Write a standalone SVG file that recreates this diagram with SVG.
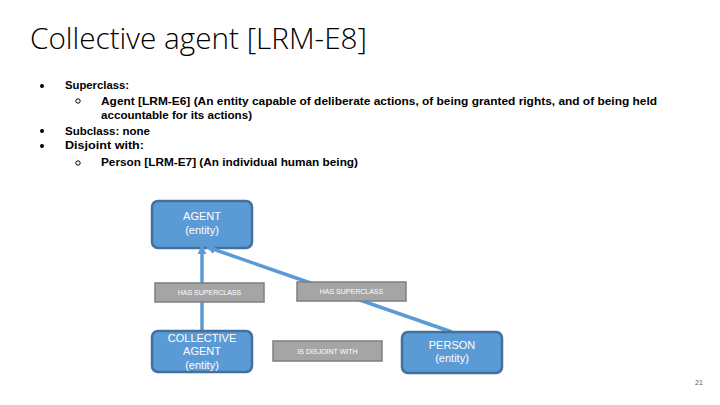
<svg xmlns="http://www.w3.org/2000/svg" width="720" height="405" viewBox="0 0 720 405">
<defs>
<style>
.title{font-family:"Open Sans","Liberation Sans",sans-serif;font-weight:300;font-size:30px;fill:#000}
.b{font-family:"Liberation Sans",Arial,sans-serif;font-weight:bold;font-size:11px;fill:#000}
.node rect{fill:#5B9BD5;stroke:#41719C;stroke-width:2.5}
.node text{font-family:"Liberation Sans",Arial,sans-serif;font-size:11px;fill:#fff;text-anchor:middle}
.lbl rect{fill:#A5A5A5;stroke:#7F7F7F;stroke-width:1.5}
.lbl text{font-family:"Liberation Sans",Arial,sans-serif;font-size:7px;fill:#fff;text-anchor:middle}
.conn{stroke:#5B9BD5;stroke-width:3.5;fill:none}
</style>
<marker id="arr" viewBox="0 0 10 10" refX="9" refY="5" markerWidth="2.6" markerHeight="2.6" orient="auto"><path d="M0,0L10,5L0,10z" fill="#5B9BD5"/></marker>
</defs>
<rect width="720" height="405" fill="#fff"/>
<text class="title" x="30" y="49" textLength="337" lengthAdjust="spacingAndGlyphs">Collective agent [LRM-E8]</text>
<g id="bullets">
<circle cx="42" cy="86" r="2" fill="#000"/>
<text class="b" x="65" y="89" textLength="64" lengthAdjust="spacingAndGlyphs">Superclass:</text>
<circle cx="78" cy="101" r="2.2" fill="none" stroke="#000" stroke-width="1"/>
<text class="b" x="101" y="105" textLength="556" lengthAdjust="spacingAndGlyphs">Agent [LRM-E6] (An entity capable of deliberate actions, of being granted rights, and of being held</text>
<text class="b" x="101" y="119" textLength="151" lengthAdjust="spacingAndGlyphs">accountable for its actions)</text>
<circle cx="42" cy="131" r="2" fill="#000"/>
<text class="b" x="65" y="135" textLength="85" lengthAdjust="spacingAndGlyphs">Subclass: none</text>
<circle cx="42" cy="146" r="2" fill="#000"/>
<text class="b" x="65" y="149" textLength="79" lengthAdjust="spacingAndGlyphs">Disjoint with:</text>
<circle cx="78" cy="163" r="2.2" fill="none" stroke="#000" stroke-width="1"/>
<text class="b" x="101" y="166" textLength="257" lengthAdjust="spacingAndGlyphs">Person [LRM-E7] (An individual human being)</text>
</g>
<g id="agent" class="node">
<rect x="152" y="201" width="100" height="47" rx="6"/>
<text x="202" y="220">AGENT</text>
<text x="202" y="234">(entity)</text>
</g>
<g id="connectors">
<line class="conn" x1="202" y1="331" x2="202" y2="246" marker-end="url(#arr)"/>
<line class="conn" x1="452" y1="332" x2="207" y2="247" marker-end="url(#arr)"/>
</g>
<g id="collective" class="node">
<rect x="152" y="331" width="100" height="41" rx="6"/>
<text x="202" y="342">COLLECTIVE</text>
<text x="202" y="355">AGENT</text>
<text x="202" y="369">(entity)</text>
</g>
<g id="person" class="node">
<rect x="402" y="332" width="100" height="41" rx="6"/>
<text x="452" y="349">PERSON</text>
<text x="452" y="362">(entity)</text>
</g>
<g id="lbl1" class="lbl">
<rect x="155" y="283" width="109" height="19"/>
<text x="209.5" y="295">HAS SUPERCLASS</text>
</g>
<g id="lbl2" class="lbl">
<rect x="297" y="282" width="109" height="19"/>
<text x="351.5" y="294">HAS SUPERCLASS</text>
</g>
<g id="lbl3" class="lbl">
<rect x="273" y="341" width="109" height="20"/>
<text x="327.5" y="353.5">IS DISJOINT WITH</text>
</g>
<text x="699" y="385" font-family="Liberation Sans,Arial,sans-serif" font-size="7" fill="#595959" text-anchor="middle">21</text>
</svg>
